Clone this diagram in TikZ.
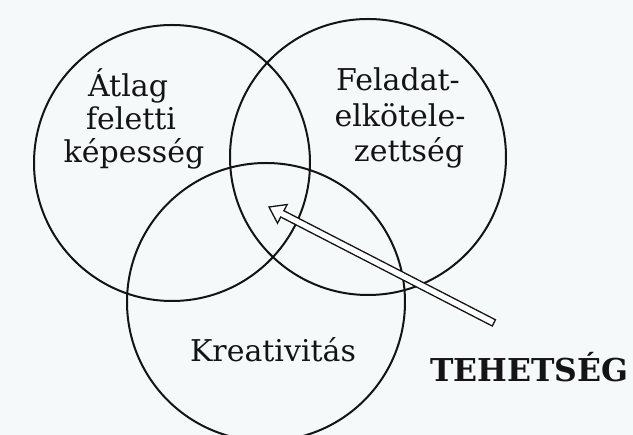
\documentclass[tikz,border=0pt]{standalone}
\usepackage{fontspec}
\setmainfont{DejaVu Serif}
\definecolor{paper}{RGB}{245,249,250}
\definecolor{ink}{RGB}{20,20,20}
\begin{document}
\begin{tikzpicture}[x=1pt,y=-1pt,
  ring/.style={draw=ink, line width=2pt},
  lbl/.style={font=\fontsize{30}{34}\selectfont, text=ink, anchor=base, inner sep=0pt},
  big/.style={font=\fontsize{31.5}{37}\selectfont\bfseries, text=ink, anchor=base west, inner sep=0pt},
  hollow/.style={draw=ink, line width=1.3pt, fill=white, line join=miter}]
\fill[paper] (0,0) rectangle (633,435);
\useasboundingbox (0,0) rectangle (633,435);
\begin{scope}
\clip (0,0) rectangle (633,435);
\draw[ring] (172,163) circle[radius=138pt];
\draw[ring] (368,157) circle[radius=138pt];
\draw[ring] (266,302) circle[radius=139pt];
\end{scope}
% labels
\node[lbl] (a1) at (128,97) {Átlag};
\node[lbl] (a2) at (131,130) {feletti};
\node[lbl] (a3) at (134,163) {képesség};
\node[lbl] (f1) at (398,91) {Feladat-};
\node[lbl] (f2) at (400,127) {elkötele-};
\node[lbl] (f3) at (409,162) {zettség};
\node[lbl] (kr) at (273,362) {Kreativitás};
\node[big] (teh) at (430,382) {TEHETSÉG};
% hollow arrow
\coordinate (tip) at (269,207);
\coordinate (tail) at (494,323);
\begin{scope}[shift={(tip)}, rotate=-27.27]
\draw[hollow] (0,0) -- (15,10.5) -- (15,3.5) -- (253,3.5) -- (253,-3.5) -- (15,-3.5) -- (15,-10.5) -- cycle;
\end{scope}
\end{tikzpicture}
\end{document}
